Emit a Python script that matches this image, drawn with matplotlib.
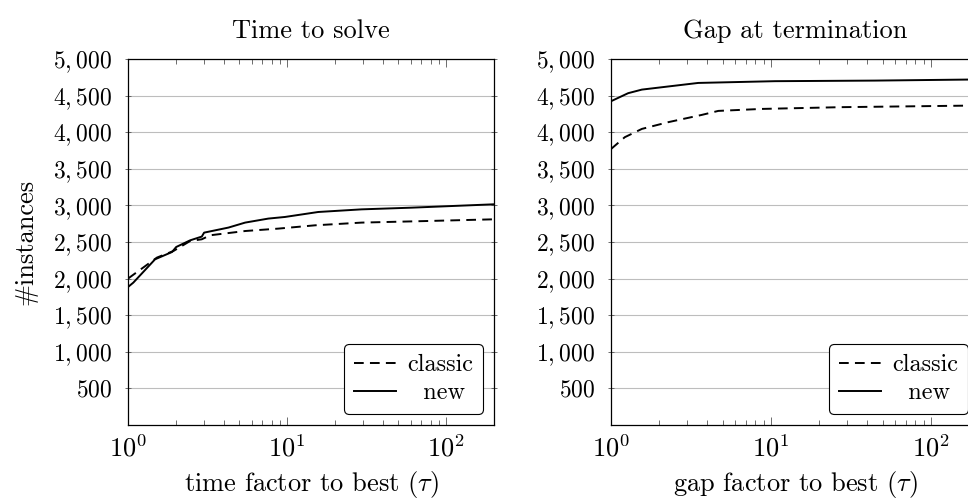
"""Performance profiles: time to solve and gap at termination (classic vs new)."""

import matplotlib

matplotlib.use("Agg")
import matplotlib.pyplot as plt
from matplotlib.ticker import FuncFormatter, LogLocator

# Time to solve (left panel)
time_classic_tau = [1.0, 1.52, 1.93, 2.46, 2.91, 3.29, 5.45, 8.82, 15.0, 29.4, 77.0, 200.0]
time_classic_n = [2000, 2287, 2377, 2514, 2537, 2592, 2650, 2683, 2728, 2765, 2787, 2810]
time_new_tau = [1.0, 1.08, 1.48, 1.89, 2.01, 2.46, 2.91, 3.01, 4.28, 5.45, 7.63, 9.7,
                15.7, 29.4, 60.6, 200.0]
time_new_n = [1885, 1945, 2264, 2363, 2432, 2523, 2574, 2628, 2697, 2765, 2820, 2842,
              2910, 2946, 2969, 3015]

# Gap at termination (right panel)
gap_classic_tau = [1.0, 1.22, 1.56, 2.28, 3.69, 4.69, 8.76, 27.6, 170.0, 200.0]
gap_classic_n = [3770, 3932, 4045, 4137, 4236, 4291, 4318, 4342, 4363, 4365]
gap_new_tau = [1.0, 1.28, 1.56, 3.51, 10.6, 44.7, 170.0, 200.0]
gap_new_n = [4423, 4533, 4582, 4673, 4697, 4705, 4719, 4720]

y_ticks = [500, 1000, 1500, 2000, 2500, 3000, 3500, 4000, 4500, 5000]

plt.rcParams.update({
    "font.family": "serif",
    "font.serif": ["cmr10"],
    "mathtext.fontset": "cm",
    "axes.formatter.use_mathtext": True,
    "font.size": 16.5,
})


def _thousands(value, _pos):
    # math mode puts a small gap after the comma, like the LaTeX original
    return "$\\mathdefault{" + f"{int(value):,}" + "}$"


fig = plt.figure(figsize=(9.68, 5.0), dpi=100)
ax_time = fig.add_axes([128 / 968, 75 / 500, 366 / 968, 366 / 500])
ax_gap = fig.add_axes([611 / 968, 75 / 500, 368 / 968, 366 / 500])

panels = [
    (ax_time, "Time to solve", "time factor to best ($\\tau$)",
     time_classic_tau, time_classic_n, time_new_tau, time_new_n),
    (ax_gap, "Gap at termination", "gap factor to best ($\\tau$)",
     gap_classic_tau, gap_classic_n, gap_new_tau, gap_new_n),
]

for ax, title, xlabel, c_tau, c_n, n_tau, n_n in panels:
    ax.plot(c_tau, c_n, color="black", lw=1.4, dashes=(5.0, 3.2), label="classic")
    ax.plot(n_tau, n_n, color="black", lw=1.4, label="  new")
    ax.set_xscale("log")
    ax.set_xlim(1, 200)
    ax.set_ylim(0, 5000)
    ax.set_yticks(y_ticks)
    ax.yaxis.set_major_formatter(FuncFormatter(_thousands))
    ax.xaxis.set_major_locator(LogLocator(base=10))
    ax.xaxis.set_minor_locator(LogLocator(base=10, subs=range(2, 10)))
    ax.grid(True, axis="y", color="#bdbdbd", lw=0.8)
    ax.set_axisbelow(True)
    ax.tick_params(axis="x", which="major", direction="in", top=True, length=6,
                   width=0.6, color="#555555", pad=7, labelsize=19)
    ax.tick_params(axis="x", which="minor", direction="in", top=True, length=3.5,
                   width=0.6, color="#555555")
    ax.tick_params(axis="y", which="major", direction="inout", right=True, length=5,
                   width=0.6, color="#555555", pad=9, labelsize=17)
    for spine in ax.spines.values():
        spine.set_linewidth(0.9)
    ax.set_title(title, pad=15, fontsize=19)
    ax.set_xlabel(xlabel, labelpad=5, fontsize=19)
    leg = ax.legend(loc="lower right", bbox_to_anchor=(0.970, 0.030), borderaxespad=0,
                    fancybox=True, framealpha=1, edgecolor="black", fontsize=17.5,
                    handlelength=1.75, handletextpad=0.45, borderpad=0.4,
                    labelspacing=0.25)
    leg.get_frame().set_linewidth(0.8)

ax_time.set_ylabel("#instances", labelpad=11, fontsize=19)

fig.savefig("out.png", dpi=100)
